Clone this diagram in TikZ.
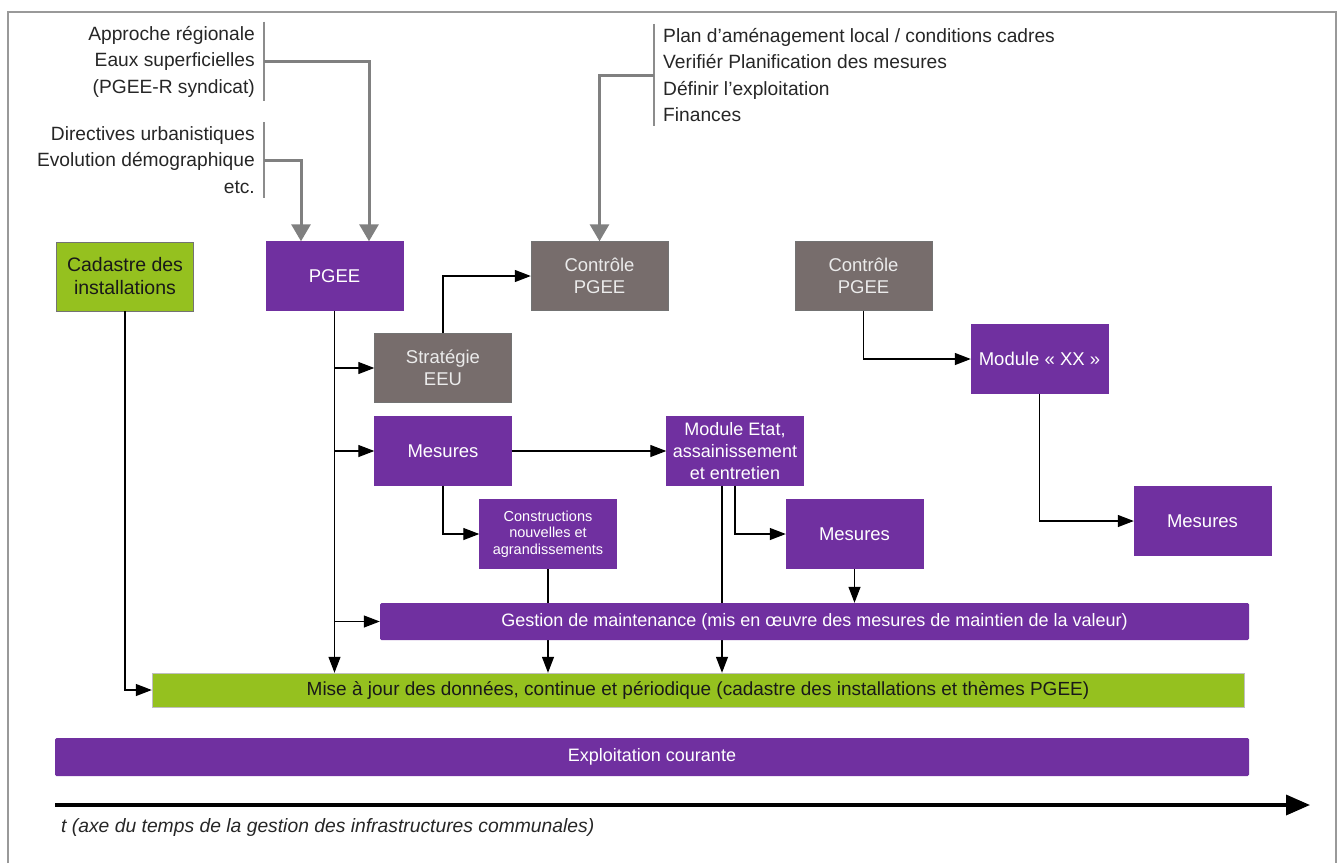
\documentclass[tikz,border=0pt]{standalone}
\usepackage{fontspec}
\setmainfont{Liberation Sans}
\usetikzlibrary{arrows.meta,backgrounds}
\definecolor{pviolet}{HTML}{7030A0}
\definecolor{pgreen}{HTML}{95C11F}
\definecolor{pgrey}{HTML}{776D6C}
\tikzset{
	box/.style={rectangle,minimum width=137pt,minimum height=69pt,inner sep=2pt,align=center,font=\fontsize{18.5}{22}\selectfont},
	violetbox/.style={box,fill=pviolet,draw=pviolet,text=white},
	greybox/.style={box,fill=pgrey,draw=black!55,text=white!92!black},
	greenbox/.style={box,fill=pgreen,draw=black!55,text=black!90,font=\fontsize{19.5}{23}\selectfont},
	bar/.style={rectangle,inner sep=0pt,font=\fontsize{18}{22}\selectfont},
	link/.style={-{Triangle[length=16pt,width=12pt]},line width=1.2pt},
	feed/.style={-{Triangle[length=17pt,width=19pt]},line width=3pt,draw=black!50},
	brace/.style={line width=2.2pt,draw=black!45},
	list/.style={font=\fontsize{19.2}{26.5}\selectfont,text=black!85,inner xsep=0pt,inner ysep=4pt},
	axis/.style={-{Triangle[length=24pt,width=20pt]},line width=3.5pt}
}
\begin{document}
\begin{tikzpicture}[x=1pt,y=-1pt]
	\useasboundingbox (0,0) rectangle (1344,863);
	\draw[black!40,line width=1.5pt] (8,863) -- (8,12) -- (1336,12) -- (1336,863);

	\node[list,anchor=east,align=right] (regio) at (255,61.5) {Approche régionale\\Eaux superficielles\\(PGEE-R syndicat)};
	\node[list,anchor=east,align=right] (urba) at (255,160) {Directives urbanistiques\\Evolution démographique\\etc.};
	\node[list,anchor=west,align=left] (plan) at (663,75) {Plan d’aménagement local / conditions cadres\\Verifiér Planification des mesures\\Définir l’exploitation\\Finances};
	\draw[brace] ([xshift=9pt]regio.north east) -- ([xshift=9pt]regio.south east);
	\draw[brace] ([xshift=9pt]urba.north east) -- ([xshift=9pt]urba.south east);
	\draw[brace] ([xshift=-9pt]plan.north west) -- ([xshift=-9pt]plan.south west);

	\node[greenbox] (cadastre) at (125,276.5) {Cadastre des\\installations};
	\node[violetbox] (pgee) at (334.5,276) {PGEE};
	\node[greybox] (ctrlA) at (599.5,276) {Contrôle\\PGEE};
	\node[greybox] (ctrlB) at (863.5,276) {Contrôle\\PGEE};
	\node[greybox] (strat) at (443,368) {Stratégie\\EEU};
	\node[violetbox] (mesA) at (443,451) {Mesures};
	\node[violetbox,font=\fontsize{18}{21.7}\selectfont] (etat) at (735,451) {Module Etat,\\assainissement\\et entretien};
	\node[violetbox,font=\fontsize{14.5}{16.7}\selectfont] (constr) at (548,534) {Constructions\\nouvelles et\\agrandissements};
	\node[violetbox] (mesB) at (854.5,534) {Mesures};
	\node[violetbox] (modxx) at (1039.5,359) {Module « XX »};
	\node[violetbox] (mesC) at (1202.5,521) {Mesures};

	\node[bar,fill=pviolet,text=white,minimum width=869pt,minimum height=37pt,rounded corners=1.5pt] (gestion) at (814.5,621.5) {Gestion de maintenance (mis en œuvre des mesures de maintien de la valeur)};
	\node[bar,fill=pgreen,draw=black!25,text=black!90,minimum width=1092pt,minimum height=34pt,font=\fontsize{19}{22}\selectfont] (maj) at (698,690) {Mise à jour des données, continue et périodique (cadastre des installations et thèmes PGEE)};
	\node[bar,fill=pviolet,text=white,minimum width=1194pt,minimum height=38pt,rounded corners=1.5pt] (exploit) at (652,757) {Exploitation courante};

	\draw[feed] ([xshift=9pt]regio.east) -| ([xshift=34.5pt]pgee.north);
	\draw[feed] ([xshift=9pt]urba.east) -| ([xshift=-33.5pt]pgee.north);
	\draw[feed] ([xshift=-9pt]plan.west) -| (ctrlA.north);

	\draw[link] (pgee.south) -- (pgee.south |- maj.north);
	\draw[link] (pgee.south |- strat.west) -- (strat.west);
	\draw[link] (pgee.south |- mesA.west) -- (mesA.west);
	\draw[link] (pgee.south |- gestion.west) -- (gestion.west);
	\draw[link] (strat.north) |- (ctrlA.west);
	\draw[link] (mesA) -- (etat);
	\draw[link] (mesA.south) |- (constr.west);
	\draw[link] (etat.south) |- (mesB.west);
	\draw[link] (mesB) -- (mesB |- gestion.north);
	\draw[link] (ctrlB.south) |- (modxx.west);
	\draw[link] (modxx.south) |- (mesC.west);
	\draw[link] (cadastre.south) |- (maj.west);
	\begin{scope}[on background layer]
		\draw[link] (constr.south) -- (constr.south |- maj.north);
		\draw[link] ([xshift=-13pt]etat.south) -- ([xshift=-13pt]etat.south |- maj.north);
	\end{scope}

	\coordinate (tstart) at (55,805);
	\coordinate (tend) at (1310,805);
	\draw[axis] (tstart) -- (tend);
	\node[anchor=west,inner sep=0pt,font=\fontsize{19.3}{22}\selectfont\itshape,text=black!85] (taxe) at (61,827) {t (axe du temps de la gestion des infrastructures communales)};
\end{tikzpicture}
\end{document}
